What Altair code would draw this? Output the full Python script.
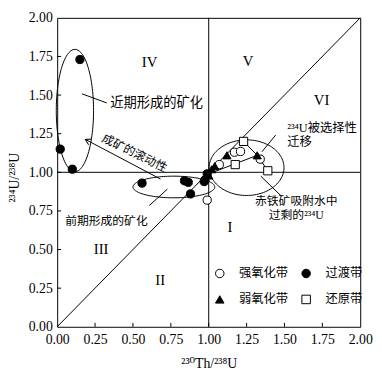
import altair as alt
import pandas as pd
import numpy as np

# ---------------- data ----------------
zones = ["强氧化带", "过渡带", "弱氧化带", "还原带"]
zone_shapes = ["circle", "circle", "triangle-up", "square"]
zone_fills = ["white", "black", "black", "white"]

strong_x = [1.17, 1.21, 1.34, 1.07, 0.99]
strong_y = [1.13, 1.135, 1.085, 1.05, 0.82]
trans_x = [0.15, 0.02, 0.10, 0.56, 0.84, 0.865, 0.88, 0.975, 0.97, 0.99]
trans_y = [1.73, 1.15, 1.02, 0.93, 0.945, 0.935, 0.86, 0.95, 0.94, 0.99]
weak_x = [1.12, 1.32, 1.02, 1.04, 1.00]
weak_y = [1.11, 1.11, 1.02, 1.04, 0.98]
reduc_x = [1.23, 1.175, 1.39]
reduc_y = [1.20, 1.05, 1.01]

# legend (drawn inside the plot, bottom right)
leg_sym_x = [1.073, 1.643, 1.073, 1.643]
leg_sym_y = [0.345, 0.345, 0.177, 0.177]
leg_lab_x = [1.20, 1.77, 1.20, 1.77]

tick_vals = [0.0, 0.25, 0.5, 0.75, 1.0, 1.25, 1.5, 1.75, 2.0]
inner_ticks = [0.25, 0.5, 0.75, 1.0, 1.25, 1.5, 1.75]

# reference lines: y = x diagonal, x = 1, y = 1
ref_x1 = [0.0, 1.0, 0.0]
ref_y1 = [0.0, 0.0, 1.0]
ref_x2 = [2.0, 1.0, 2.0]
ref_y2 = [2.0, 2.0, 1.0]

# connecting lines between samples + annotation pointer lines
seg_x1 = [1.00, 1.23, 1.32, 0.164, 0.608, 1.442, 1.344, 0.186]
seg_y1 = [0.99, 1.20, 1.11, 1.508, 0.785, 1.241, 0.975, 1.213]
seg_x2 = [1.32, 1.32, 1.39, 0.327, 0.727, 1.351, 1.481, 0.682]
seg_y2 = [1.11, 1.11, 1.01, 1.449, 0.891, 1.133, 0.844, 0.956]

# ellipses (center, radii)
ell_cx = [0.117, 0.77, 1.25]
ell_cy = [1.40, 0.905, 1.03]
ell_rx = [0.123, 0.27, 0.247]
ell_ry = [0.396, 0.07, 0.18]

roman_text = ["IV", "V", "VI", "III", "II", "I"]
roman_x = [0.61, 1.26, 1.745, 0.29, 0.68, 1.14]
roman_y = [1.715, 1.72, 1.47, 0.50, 0.305, 0.648]

noteL_text = ["近期形成的矿化", "²³⁴U被选择性", "迁移"]
noteL_x = [0.35, 1.518, 1.518]
noteL_y = [1.449, 1.285, 1.196]
noteL_size = [13.5, 12.5, 12.5]

noteC_text = ["前期形成的矿化", "赤铁矿吸附水中", "过剩的²³⁴U"]
noteC_x = [0.325, 1.578, 1.578]
noteC_y = [0.684, 0.812, 0.724]

rot_text = ["成矿的滚动性"]
rot_x = [0.51]
rot_y = [1.125]

arrow_x = [0.186]
arrow_y = [1.213]

SERIF = "'Liberation Serif', 'DejaVu Serif', 'Noto Sans CJK SC'"
CJK = "'Liberation Serif', 'Noto Sans CJK SC'"

# ---------------- tables ----------------
pts = pd.DataFrame({
    "x": strong_x + trans_x + weak_x + reduc_x,
    "y": strong_y + trans_y + weak_y + reduc_y,
    "zone": [zones[0]] * len(strong_x) + [zones[1]] * len(trans_x)
    + [zones[2]] * len(weak_x) + [zones[3]] * len(reduc_x),
})
leg_df = pd.DataFrame({"x": leg_sym_x, "y": leg_sym_y, "lx": leg_lab_x, "zone": zones})
refs = pd.DataFrame({"x": ref_x1, "y": ref_y1, "x2": ref_x2, "y2": ref_y2})
segs = pd.DataFrame({"x": seg_x1, "y": seg_y1, "x2": seg_x2, "y2": seg_y2})
ticks = pd.DataFrame({
    "x": inner_ticks + [0.0] * len(inner_ticks),
    "y": [0.0] * len(inner_ticks) + inner_ticks,
    "x2": inner_ticks + [0.026] * len(inner_ticks),
    "y2": [0.025] * len(inner_ticks) + inner_ticks,
})
rows = []
for i in range(len(ell_cx)):
    for k in range(121):
        t = 2 * np.pi * k / 120
        rows.append({"id": i, "k": k,
                     "x": ell_cx[i] + ell_rx[i] * np.cos(t),
                     "y": ell_cy[i] + ell_ry[i] * np.sin(t)})
ell = pd.DataFrame(rows)
roman = pd.DataFrame({"x": roman_x, "y": roman_y, "t": roman_text})
noteL = pd.DataFrame({"x": noteL_x, "y": noteL_y, "t": noteL_text, "s": noteL_size})
noteC = pd.DataFrame({"x": noteC_x, "y": noteC_y, "t": noteC_text})
rot = pd.DataFrame({"x": rot_x, "y": rot_y, "t": rot_text})
arrow = pd.DataFrame({"x": arrow_x, "y": arrow_y})

# ---------------- encodings ----------------
sc = alt.Scale(domain=[0, 2], nice=False, zero=False)
x_axis = alt.Axis(values=tick_vals, format=".2f", ticks=False, grid=False, domain=False,
                  labelFont=SERIF, labelFontSize=14, labelColor="black", labelPadding=6,
                  labelFlush=False, labelOverlap=False,
                  title="²³⁰Th/²³⁸U", titleFont=SERIF, titleFontSize=14,
                  titleFontWeight="normal", titleColor="black", titlePadding=10)
y_axis = alt.Axis(values=tick_vals, format=".2f", ticks=False, grid=False, domain=False,
                  labelFont=SERIF, labelFontSize=14, labelColor="black", labelPadding=5,
                  labelFlush=False, labelOverlap=False,
                  title="²³⁴U/²³⁸U", titleFont=SERIF, titleFontSize=14,
                  titleFontWeight="normal", titleColor="black", titlePadding=7, titleY=162)


def X(f="x"):
    return alt.X(f"{f}:Q", scale=sc, axis=x_axis)


def Y(f="y"):
    return alt.Y(f"{f}:Q", scale=sc, axis=y_axis)


shape_enc = alt.Shape("zone:N", scale=alt.Scale(domain=zones, range=zone_shapes), legend=None)
fill_enc = alt.Fill("zone:N", scale=alt.Scale(domain=zones, range=zone_fills), legend=None)

ref_layer = alt.Chart(refs).mark_rule(color="black", strokeWidth=1).encode(
    x=X(), y=Y(), x2="x2:Q", y2="y2:Q")
seg_layer = alt.Chart(segs).mark_rule(color="black", strokeWidth=1).encode(
    x=X(), y=Y(), x2="x2:Q", y2="y2:Q")
tick_layer = alt.Chart(ticks).mark_rule(color="black", strokeWidth=1).encode(
    x=X(), y=Y(), x2="x2:Q", y2="y2:Q")
ell_layer = alt.Chart(ell).mark_line(color="black", strokeWidth=1).encode(
    x=X(), y=Y(), detail="id:N", order="k:Q")

pt_layer = alt.Chart(pts).mark_point(filled=True, size=70, stroke="black", strokeWidth=1, opacity=1).encode(
    x=X(), y=Y(), shape=shape_enc, fill=fill_enc)
leg_sym_layer = alt.Chart(leg_df).mark_point(filled=True, size=75, stroke="black", strokeWidth=1, opacity=1).encode(
    x=X(), y=Y(), shape=shape_enc, fill=fill_enc)
leg_lab_layer = alt.Chart(leg_df).mark_text(font=CJK, fontSize=12.5, color="black",
                                             align="left", baseline="middle").encode(
    x=X("lx"), y=Y(), text="zone:N")

arrow_layer = alt.Chart(arrow).mark_point(
    shape="M -1 -0.6 L 0 0 L -1 0.6", filled=False, size=120, angle=208,
    stroke="black", strokeWidth=1, opacity=1).encode(x=X(), y=Y())

roman_layer = alt.Chart(roman).mark_text(font=SERIF, fontSize=15, color="black",
                                          align="center", baseline="middle").encode(
    x=X(), y=Y(), text="t:N")
noteL_layer = alt.Chart(noteL).mark_text(font=CJK, color="black",
                                          align="left", baseline="middle").encode(
    x=X(), y=Y(), text="t:N", size=alt.Size("s:Q", scale=None, legend=None))
noteC_layer = alt.Chart(noteC).mark_text(font=CJK, fontSize=12, color="black",
                                          align="center", baseline="middle").encode(
    x=X(), y=Y(), text="t:N")
rot_layer = alt.Chart(rot).mark_text(font=CJK, fontSize=12, color="black", angle=26,
                                      align="center", baseline="middle").encode(
    x=X(), y=Y(), text="t:N")

chart = alt.layer(
    ref_layer, seg_layer, tick_layer, ell_layer, arrow_layer,
    roman_layer, noteL_layer, noteC_layer, rot_layer, pt_layer,
    leg_sym_layer, leg_lab_layer,
).properties(
    width=308, height=314,
    autosize=alt.AutoSizeParams(type="none"),
    padding={"left": 50, "top": 7, "right": 14, "bottom": 45},
    background="white",
).configure_view(stroke="black", strokeWidth=1)

chart.save("out.html", embed_options={"renderer": "svg", "actions": False})
